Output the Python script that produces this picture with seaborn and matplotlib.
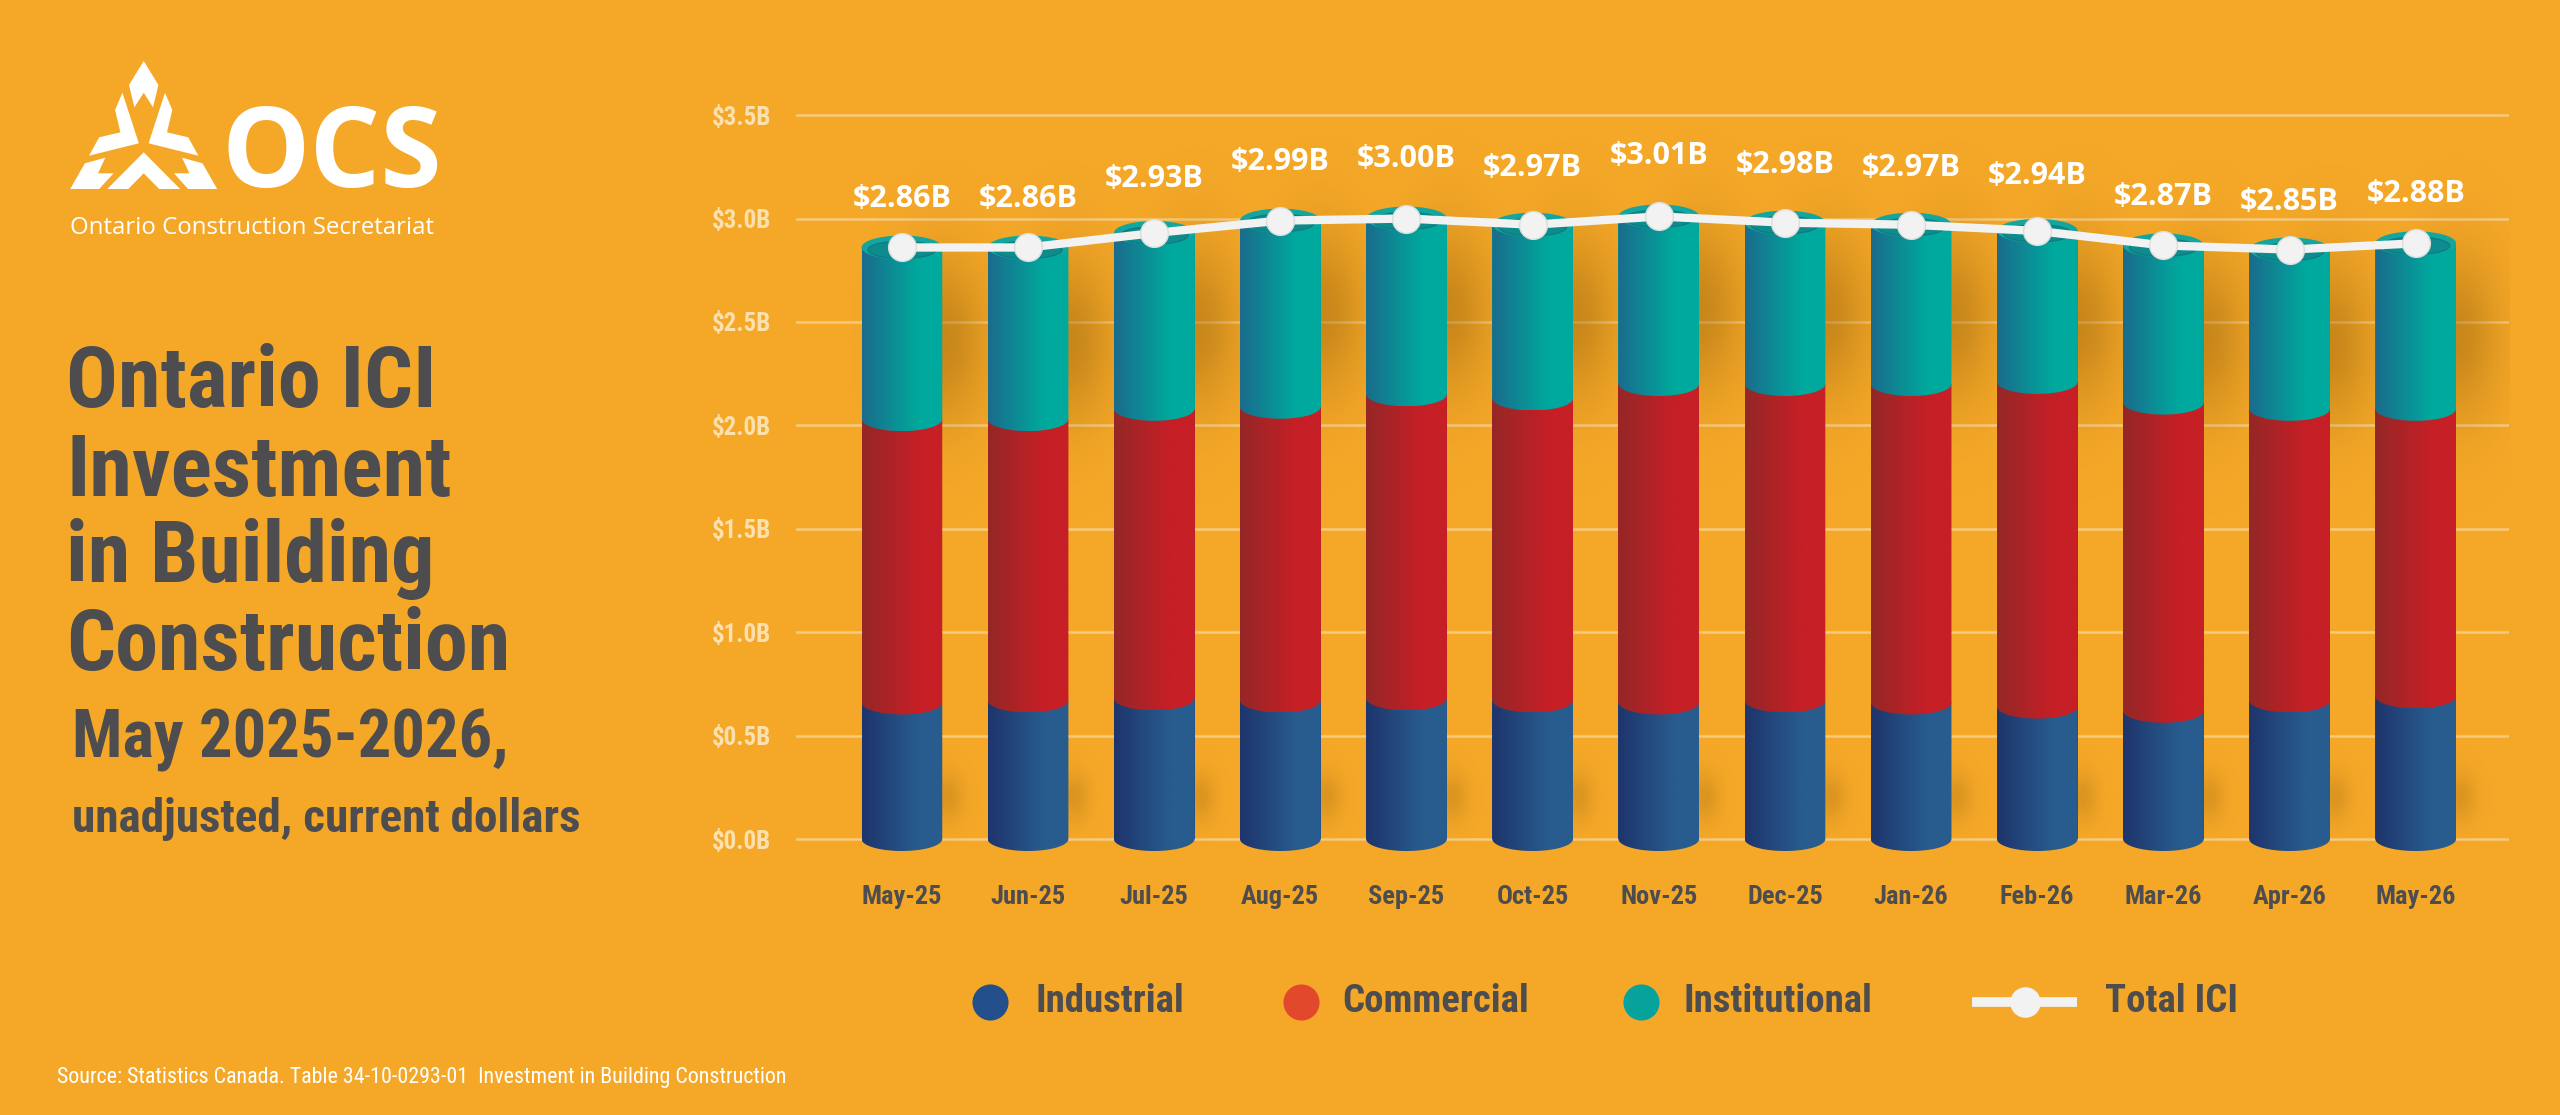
import numpy as np
import pandas as pd
import matplotlib
matplotlib.use("Agg")
import matplotlib.pyplot as plt
import seaborn as sns
from matplotlib import font_manager as fm
from matplotlib.patches import Ellipse, Polygon, PathPatch
from matplotlib.path import Path
from matplotlib.colors import to_rgb

# ── DATA ────────────────────────────────────────────────────────────────────
months = ["May-25", "Jun-25", "Jul-25", "Aug-25", "Sep-25", "Oct-25", "Nov-25",
          "Dec-25", "Jan-26", "Feb-26", "Mar-26", "Apr-26", "May-26"]
industrial = [0.66, 0.67, 0.68, 0.67, 0.68, 0.67, 0.66, 0.67, 0.66, 0.64, 0.62, 0.67, 0.69]
commercial = [1.37, 1.36, 1.40, 1.42, 1.47, 1.46, 1.54, 1.53, 1.54, 1.57, 1.49, 1.41, 1.39]
institutional = [0.83, 0.83, 0.85, 0.90, 0.85, 0.84, 0.81, 0.78, 0.77, 0.73, 0.76, 0.77, 0.80]
total_ici = [2.86, 2.86, 2.93, 2.99, 3.00, 2.97, 3.01, 2.98, 2.97, 2.94, 2.87, 2.85, 2.88]
y_ticks = [0.0, 0.5, 1.0, 1.5, 2.0, 2.5, 3.0, 3.5]
series_names = ["Industrial", "Commercial", "Institutional", "Total ICI"]
title_lines = ["Ontario ICI", "Investment", "in Building", "Construction"]
subtitle = "May 2025-2026,"
subnote = "unadjusted, current dollars"
source_note = "Source: Statistics Canada. Table 34-10-0293-01  Investment in Building Construction"

df = pd.DataFrame({"month": months, "Industrial": industrial,
                   "Commercial": commercial, "Institutional": institutional})

# ── STYLE ───────────────────────────────────────────────────────────────────
BG = "#F5A828"
DARK = "#4D4D4F"
GRID = "#F8CB7C"
TICK = "#FCE0AE"
LINE = "#F2F2F2"
base_cols = ["#24497F", "#B42126", "#0A9A98"]
grads = [("#1E356C", "#285C8E"), ("#952727", "#C61F26"), ("#1A6C8C", "#00A99D")]
legend_cols = ["#23508A", "#E2482C", "#05A39B"]

sns.set_theme(style="white")
avail = {f.name for f in fm.fontManager.ttflist}


def pick(*names):
    for n in names:
        if n in avail:
            return n
    return "DejaVu Sans"


COND = pick("Roboto Condensed", "Liberation Sans Narrow", "DejaVu Sans")
GEO = pick("Open Sans", "Lato", "DejaVu Sans")
plt.rcParams["font.family"] = [COND, "DejaVu Sans"]

fig = plt.figure(figsize=(25.6, 11.15), dpi=100, facecolor=BG)

# decoration layer in pixel coordinates
deco = fig.add_axes([0, 0, 1, 1], zorder=0)
deco.set_xlim(0, 2560)
deco.set_ylim(1115, 0)
deco.axis("off")

ax = fig.add_axes([0.3109, 0.2197, 0.6692, 0.6906], zorder=2)
ax.set_facecolor("none")

# ── BARS (stacked) ──────────────────────────────────────────────────────────
layers = []
bottom = np.zeros(len(months))
for k, col in enumerate(["Industrial", "Commercial", "Institutional"]):
    n0 = len(ax.patches)
    kw = {} if k == 0 else {"bottom": bottom.copy()}
    sns.barplot(data=df, x="month", y=col, color=base_cols[k], saturation=1,
                width=0.64, errorbar=None, linewidth=0, ax=ax, zorder=2, **kw)
    layers.append(ax.patches[n0:])
    bottom = bottom + df[col].to_numpy()

EH = 0.116  # ellipse height in data units (cylinder look)


def seg_rgba(left, right, n=64):
    l = np.array(to_rgb(left))
    r = np.array(to_rgb(right))
    t = np.clip(np.linspace(0, 1, n) / 0.7, 0, 1)
    return (l + (r - l) * t[:, None])[None, :, :]


def seg_path(x0, w, y0, y1):
    xc = x0 + w / 2
    t = np.linspace(np.pi, 2 * np.pi, 48)
    arc = np.column_stack([xc + w / 2 * np.cos(t), y0 + EH / 2 * np.sin(t)])
    verts = np.vstack([[x0, y1], arc, [x0 + w, y1], [x0, y1]])
    codes = [Path.MOVETO] + [Path.LINETO] * (len(verts) - 2) + [Path.CLOSEPOLY]
    return Path(verts, codes)


for k, patches in enumerate(layers):
    for p in patches:
        x0, w, y0, h = p.get_x(), p.get_width(), p.get_y(), p.get_height()
        clip = PathPatch(seg_path(x0, w, y0, y0 + h), transform=ax.transData)
        im = ax.imshow(seg_rgba(*grads[k]), extent=(x0, x0 + w, y0 - EH / 2, y0 + h),
                       aspect="auto", zorder=3 + k, interpolation="bilinear")
        im.set_clip_path(clip)

# top caps
for p in layers[2]:
    xc = p.get_x() + p.get_width() / 2
    top = p.get_y() + p.get_height()
    ax.add_patch(Ellipse((xc, top), p.get_width(), EH, facecolor="#14A69E",
                         edgecolor="none", zorder=6))
    ax.add_patch(Ellipse((xc, top - EH * 0.1), p.get_width() * 0.84, EH * 0.72,
                         facecolor="#0E8C8D", edgecolor="#0B7E82", lw=1, zorder=6.1))

# soft shadows behind the columns
XLIM = (-0.84, 12.74)
YLIM = (-0.15, 3.573)
gx = np.linspace(*XLIM, 700)
gy = np.linspace(*YLIM, 500)
XX, YY = np.meshgrid(gx, gy)
field = np.zeros_like(XX)
for i, t in enumerate(total_ici):
    field += np.exp(-(((XX - i - 0.32) / 0.34) ** 2 + ((YY - t + 0.45) / 0.4) ** 2))
    field += 0.6 * np.exp(-(((XX - i - 0.36) / 0.12) ** 2 + ((YY - 0.2) / 0.12) ** 2))
shadow = np.zeros(XX.shape + (4,))
shadow[..., :3] = to_rgb("#8A5A08")
shadow[..., 3] = np.clip(field, 0, 1) * 0.42
ax.imshow(shadow, extent=(*XLIM, *YLIM), origin="lower", aspect="auto", zorder=1.5)

# ── TOTAL LINE ──────────────────────────────────────────────────────────────
pos = np.arange(len(months))
sns.lineplot(x=pos, y=total_ici, color=LINE, lw=6, marker="o", markersize=20,
             markerfacecolor=LINE, markeredgecolor="#DDDDDD", markeredgewidth=1,
             sort=False, legend=False, ax=ax, zorder=8)

tot = np.array(total_ici)
label_y = tot + 0.26 + 0.39 * (tot - tot.mean())
for i, (v, ly) in enumerate(zip(total_ici, label_y)):
    ax.text(i, ly, f"${v:.2f}B", ha="center", va="center", color="white",
            fontsize=22, fontweight="bold", family=[GEO, "DejaVu Sans"], zorder=9)

# ── AXES STYLING ────────────────────────────────────────────────────────────
ax.set_xlim(*XLIM)
ax.set_ylim(*YLIM)
ax.set_yticks(y_ticks)
ax.set_yticklabels([f"${t:.1f}B" for t in y_ticks], color=TICK, fontsize=18,
                   fontweight="semibold")
ax.set_xticks(pos)
ax.set_xticklabels(months, color=DARK, fontsize=19, fontweight="bold")
ax.tick_params(axis="y", length=0, pad=18)
ax.tick_params(axis="x", length=0, pad=11)
ax.grid(axis="y", color=GRID, lw=1.8, zorder=0)
ax.grid(axis="x", visible=False)
ax.set_axisbelow(True)
ax.set_xlabel("")
ax.set_ylabel("")
for s in ax.spines.values():
    s.set_visible(False)

# ── LEGEND (drawn on the pixel layer) ───────────────────────────────────────
LEG_Y = 1002
marker_x = [990, 1301, 1641]
text_x = [1035, 1342, 1684, 2105]
for mx, c in zip(marker_x, legend_cols):
    deco.plot([mx], [LEG_Y], marker="o", ms=26, mfc=c, mec="none", ls="none")
deco.plot([1972, 2077], [LEG_Y, LEG_Y], color=LINE, lw=7, solid_capstyle="butt")
deco.plot([2025], [LEG_Y], marker="o", ms=22, mfc=LINE, mec="none", ls="none")
for tx, name in zip(text_x, series_names):
    deco.text(tx, LEG_Y, name, fontsize=28, fontweight="bold", color=DARK, va="center")

# ── LOGO & TEXT ─────────────────────────────────────────────────────────────
logo_parts = [
    [(143.7, 61), (158.4, 85), (153, 107.3), (143.7, 92.7), (134.4, 107.3), (129, 85)],
    [(122.4, 92.7), (138.8, 143.3), (89, 155.7), (99.2, 137.3), (120.4, 132.3), (115.1, 110)],
    [(165, 92.7), (172.3, 110), (167, 132.3), (188.2, 137.3), (198.4, 155.7), (148.6, 143.3)],
    [(84.9, 163.3), (105.3, 157.7), (98, 173.3), (113.5, 173.3), (99.2, 189), (70.2, 189)],
    [(143.7, 152.3), (180.1, 189), (159.2, 189), (143.7, 173.3), (128.2, 189), (107.3, 189)],
    [(202.5, 163.3), (182.1, 157.7), (189.4, 173.3), (173.9, 173.3), (188.2, 189), (217.2, 189)],
]
for pts in logo_parts:
    deco.add_patch(Polygon(pts, closed=True, facecolor="white", edgecolor="none"))
deco.text(222, 187, "OCS", fontsize=80, fontweight="bold", color="white",
          family=[GEO, "DejaVu Sans"], va="baseline")
deco.text(70, 234, "Ontario Construction Secretariat", fontsize=17.3, color="white",
          family=[GEO, "DejaVu Sans"], va="baseline")

for line, base in zip(title_lines, [407, 496, 582, 670]):
    deco.text(66, base, line, fontsize=62, fontweight="bold", color=DARK, va="baseline")
deco.text(72, 757, subtitle, fontsize=48, fontweight="bold", color=DARK, va="baseline")
deco.text(72, 832, subnote, fontsize=34, fontweight="bold", color=DARK, va="baseline")
deco.text(57, 1077, source_note, fontsize=15.8, color="white", va="center")

fig.savefig("out.png", dpi=100, facecolor=BG)
